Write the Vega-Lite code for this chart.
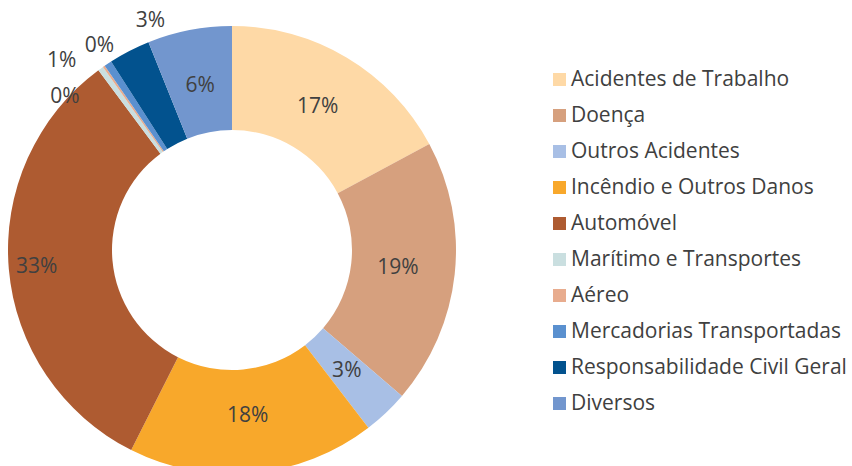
{
  "$schema": "https://vega.github.io/schema/vega-lite/v6.json",
  "width": 448,
  "height": 448,
  "autosize": {"type": "none"},
  "padding": {"left": 8, "top": 26, "right": 396, "bottom": 0},
  "background": "white",
  "config": {"view": {"stroke": null}, "font": "Open Sans"},
  "data": {"values": [
    {"cat": "Acidentes de Trabalho", "ord": 1, "value": 0.172},
    {"cat": "Doença", "ord": 2, "value": 0.192},
    {"cat": "Outros Acidentes", "ord": 3, "value": 0.033},
    {"cat": "Incêndio e Outros Danos", "ord": 4, "value": 0.179},
    {"cat": "Automóvel", "ord": 5, "value": 0.325},
    {"cat": "Marítimo e Transportes", "ord": 6, "value": 0.004},
    {"cat": "Aéreo", "ord": 7, "value": 0.0015},
    {"cat": "Mercadorias Transportadas", "ord": 8, "value": 0.0055},
    {"cat": "Responsabilidade Civil Geral", "ord": 9, "value": 0.03},
    {"cat": "Diversos", "ord": 10, "value": 0.061}
  ]},
  "encoding": {
    "theta": {"field": "value", "type": "quantitative", "stack": true, "scale": {"domain": [0, 1.003]}},
    "order": {"field": "ord", "type": "quantitative"}
  },
  "layer": [
    {
      "mark": {"type": "arc", "outerRadius": 224, "innerRadius": 120},
      "encoding": {
        "color": {
          "field": "cat", "type": "nominal",
          "scale": {
            "domain": ["Acidentes de Trabalho", "Doença", "Outros Acidentes", "Incêndio e Outros Danos", "Automóvel", "Marítimo e Transportes", "Aéreo", "Mercadorias Transportadas", "Responsabilidade Civil Geral", "Diversos"],
            "range": ["#FED9A6", "#D6A07E", "#A8BFE5", "#F8A82B", "#AE5B31", "#CADFE0", "#E8AC8E", "#5A90CF", "#02528E", "#7296CE"]
          },
          "legend": {
            "title": null,
            "orient": "none",
            "legendX": 541,
            "legendY": 43,
            "symbolType": "square",
            "symbolSize": 169,
            "symbolStrokeWidth": 0,
            "labelFontSize": 21,
            "labelColor": "#404040",
            "labelFont": "Open Sans",
            "labelOffset": 1,
            "rowPadding": 14,
            "labelLimit": 400
          }
        }
      }
    },
    {
      "mark": {"type": "text", "radius": 167, "fontSize": 21, "color": "#404040", "align": "center", "baseline": "middle"},
      "encoding": {
        "text": {"field": "value", "type": "quantitative", "format": ".0%"},
        "opacity": {"condition": {"test": "indexof(['Acidentes de Trabalho','Doença','Outros Acidentes','Incêndio e Outros Danos','Diversos'], datum.cat) >= 0", "value": 1}, "value": 0}
      }
    },
    {
      "mark": {"type": "text", "radius": 196, "fontSize": 21, "color": "#404040", "align": "center", "baseline": "middle"},
      "encoding": {
        "text": {"field": "value", "type": "quantitative", "format": ".0%"},
        "opacity": {"condition": {"test": "datum.cat === 'Automóvel'", "value": 1}, "value": 0}
      }
    },
    {
      "mark": {"type": "text", "radius": 250, "dx": 33, "dy": -7, "fontSize": 21, "color": "#404040", "align": "center", "baseline": "middle"},
      "encoding": {
        "text": {"field": "value", "type": "quantitative", "format": ".0%"},
        "opacity": {"condition": {"test": "datum.cat === 'Responsabilidade Civil Geral'", "value": 1}, "value": 0}
      }
    },
    {
      "mark": {"type": "text", "radius": 244, "dx": -24, "dy": 45, "fontSize": 21, "color": "#404040", "align": "center", "baseline": "middle"},
      "encoding": {
        "text": {"field": "value", "type": "quantitative", "format": ".0%"},
        "opacity": {"condition": {"test": "datum.cat === 'Marítimo e Transportes'", "value": 1}, "value": 0}
      }
    },
    {
      "mark": {"type": "text", "radius": 244, "dx": -35, "dy": 14, "fontSize": 21, "color": "#404040", "align": "center", "baseline": "middle"},
      "encoding": {
        "text": {"field": "value", "type": "quantitative", "format": ".0%"},
        "opacity": {"condition": {"test": "datum.cat === 'Mercadorias Transportadas'", "value": 1}, "value": 0}
      }
    },
    {
      "mark": {"type": "text", "radius": 244, "dx": 7, "dy": -4, "fontSize": 21, "color": "#404040", "align": "center", "baseline": "middle"},
      "encoding": {
        "text": {"field": "value", "type": "quantitative", "format": ".0%"},
        "opacity": {"condition": {"test": "datum.cat === 'Aéreo'", "value": 1}, "value": 0}
      }
    }
  ]
}
